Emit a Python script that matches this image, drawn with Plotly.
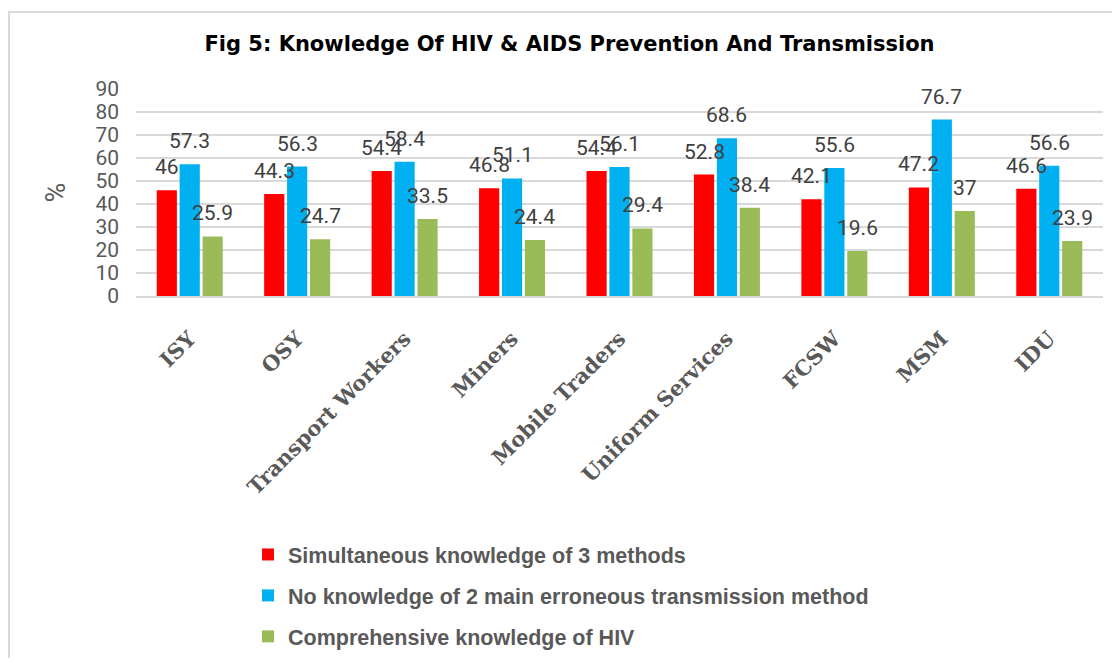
"""Grouped bar chart: knowledge of HIV & AIDS prevention and transmission."""

import plotly.graph_objects as go

CATEGORIES = ["ISY", "OSY", "Transport Workers", "Miners", "Mobile Traders",
              "Uniform Services", "FCSW", "MSM", "IDU"]
SERIES_NAMES = [
    "Simultaneous knowledge of 3 methods",
    "No knowledge of 2 main erroneous transmission method",
    "Comprehensive knowledge of HIV",
]
SIMULTANEOUS = [46, 44.3, 54.4, 46.8, 54.4, 52.8, 42.1, 47.2, 46.6]
NO_ERRONEOUS = [57.3, 56.3, 58.4, 51.1, 56.1, 68.6, 55.6, 76.7, 56.6]
COMPREHENSIVE = [25.9, 24.7, 33.5, 24.4, 29.4, 38.4, 19.6, 37, 23.9]
COLORS = ["#FF0000", "#00B0F0", "#9BBB59"]

# page body has an 8px margin, so the figure is kept 16px smaller than the window
W, H = 1104, 650
L, R, T, B = 128, 9, 81, 362
PW, PH = W - L - R, H - T - B
GRAY = "#595959"
BARGAP = 0.36

fig = go.Figure()
series = [SIMULTANEOUS, NO_ERRONEOUS, COMPREHENSIVE]
slot = (1 - BARGAP) / len(series)
for k, (name, vals, col) in enumerate(zip(SERIES_NAMES, series, COLORS)):
    fig.add_trace(go.Bar(
        x=CATEGORIES, y=vals, name=name, marker=dict(color=col, line=dict(width=0)),
        legendgroup=str(k),
    ))
    # data labels, sitting a little above each bar like the original
    for i, v in enumerate(vals):
        fig.add_annotation(
            x=i + (k - 1) * slot, y=v, xref="x", yref="y",
            text=f"{v:g}", showarrow=False, yanchor="bottom", yshift=9,
            font=dict(family="Roboto, Noto Sans", size=21, color="#404040"),
        )

# y axis title, rotated like the original
fig.add_annotation(
    x=(47 - L) / PW, xref="paper", xanchor="center", y=0.5, yref="paper",
    text="%", textangle=-90, showarrow=False,
    font=dict(family="Roboto", size=27, color=GRAY),
)

# outer chart frame (runs off the right and bottom edges)
fig.add_shape(type="rect", xref="paper", yref="paper",
              x0=-(L - 1) / PW, x1=(W - L + 20) / PW,
              y0=-(H - T + 20) / PH, y1=1 + (T - 4) / PH,
              line=dict(color="#d9d9d9", width=2), layer="below")

fig.update_layout(
    width=W, height=H,
    margin=dict(l=L, r=R, t=T, b=B, autoexpand=False),
    paper_bgcolor="white", plot_bgcolor="white",
    barmode="group", bargap=BARGAP, bargroupgap=0.12,
    title=dict(
        text="Fig 5: Knowledge Of HIV & AIDS Prevention And Transmission",
        x=561.5 / W, xanchor="center", y=1 - 36 / H, yanchor="middle",
        font=dict(family="DejaVu Sans", size=21, color="black", weight="bold"),
    ),
    xaxis=dict(
        tickangle=-45, showgrid=False, showline=True, linecolor="#d9d9d9", linewidth=2,
        tickfont=dict(family="DejaVu Serif", size=21, color=GRAY, weight="bold"),
        ticks="", ticklabelstandoff=20, automargin=False,
    ),
    yaxis=dict(
        range=[0, 90], dtick=10, showgrid=True, gridcolor="#d9d9d9", gridwidth=1.5,
        zeroline=False, showline=False, ticks="", ticklabelstandoff=16,
        tickfont=dict(family="Roboto", size=21, color=GRAY), automargin=False,
    ),
    showlegend=True,
    legend=dict(
        orientation="v", x=240 / W, xanchor="left", xref="container",
        y=1 - 526 / H, yanchor="top", yref="container",
        font=dict(family="Liberation Sans", size=21.5, color=GRAY, weight="bold"),
        tracegroupgap=10, itemwidth=30, bgcolor="rgba(0,0,0,0)",
    ),
)

fig.write_html("out.html")
